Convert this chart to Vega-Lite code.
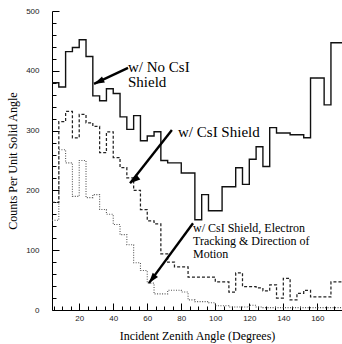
{
  "$schema": "https://vega.github.io/schema/vega-lite/v6.json",
  "width": 290,
  "height": 299,
  "autosize": "none",
  "padding": {"left": 52, "top": 11, "right": 0, "bottom": 34},
  "background": "white",
  "config": {
    "view": {"stroke": null},
    "axis": {"grid": false, "domainColor": "black", "tickColor": "black", "labelColor": "#222", "labelFont": "Liberation Sans", "labelFontSize": 8, "titleFont": "Liberation Serif", "titleFontSize": 12, "titleFontWeight": "normal", "titleColor": "black"}
  },
  "resolve": {"axis": {"x": "independent", "y": "independent"}},
  "datasets": {
    "hist": [
      {"deg": 4, "noshield": 380, "csi": 180, "track": 150},
      {"deg": 8, "noshield": 373, "csi": 315, "track": 268},
      {"deg": 12, "noshield": 432, "csi": 332, "track": 246},
      {"deg": 16, "noshield": 439, "csi": 288, "track": 190},
      {"deg": 20, "noshield": 452, "csi": 327, "track": 250},
      {"deg": 24, "noshield": 424, "csi": 313, "track": 188},
      {"deg": 28, "noshield": 358, "csi": 307, "track": 193},
      {"deg": 32, "noshield": 350, "csi": 263, "track": 168},
      {"deg": 36, "noshield": 370, "csi": 298, "track": 160},
      {"deg": 40, "noshield": 362, "csi": 255, "track": 143},
      {"deg": 44, "noshield": 323, "csi": 238, "track": 126},
      {"deg": 48, "noshield": 302, "csi": 221, "track": 109},
      {"deg": 52, "noshield": 325, "csi": 200, "track": 79},
      {"deg": 56, "noshield": 283, "csi": 168, "track": 66},
      {"deg": 60, "noshield": 291, "csi": 149, "track": 45},
      {"deg": 64, "noshield": 298, "csi": 144, "track": 27},
      {"deg": 68, "noshield": 250, "csi": 94, "track": 27},
      {"deg": 72, "noshield": 246, "csi": 80, "track": 33},
      {"deg": 76, "noshield": 246, "csi": 72, "track": 33},
      {"deg": 80, "noshield": 229, "csi": 72, "track": 30},
      {"deg": 84, "noshield": 229, "csi": 55, "track": 17},
      {"deg": 88, "noshield": 151, "csi": 55, "track": 14},
      {"deg": 92, "noshield": 193, "csi": 55, "track": 14},
      {"deg": 96, "noshield": 166, "csi": 55, "track": 12},
      {"deg": 100, "noshield": 166, "csi": 47, "track": 7},
      {"deg": 104, "noshield": 206, "csi": 47, "track": 7},
      {"deg": 108, "noshield": 206, "csi": 30, "track": 5},
      {"deg": 112, "noshield": 238, "csi": 62, "track": 5},
      {"deg": 116, "noshield": 210, "csi": 39, "track": 5},
      {"deg": 120, "noshield": 252, "csi": 39, "track": 8},
      {"deg": 124, "noshield": 273, "csi": 37, "track": 5},
      {"deg": 128, "noshield": 240, "csi": 32, "track": 4},
      {"deg": 132, "noshield": 305, "csi": 42, "track": 4},
      {"deg": 136, "noshield": 296, "csi": 20, "track": 4},
      {"deg": 140, "noshield": 296, "csi": 53, "track": 4},
      {"deg": 144, "noshield": 293, "csi": 17, "track": 4},
      {"deg": 148, "noshield": 293, "csi": 28, "track": 4},
      {"deg": 152, "noshield": 288, "csi": 33, "track": 4},
      {"deg": 156, "noshield": 388, "csi": 22, "track": 4},
      {"deg": 160, "noshield": 388, "csi": 22, "track": 4},
      {"deg": 164, "noshield": 343, "csi": 22, "track": 4},
      {"deg": 168, "noshield": 447, "csi": 47, "track": 4},
      {"deg": 172, "noshield": 447, "csi": 47, "track": 4},
      {"deg": 176, "noshield": 447, "csi": 47, "track": 4}
    ],
    "arrows": [
      {"id": "a", "x1": 48.7, "y1": 405, "x2": 28.7, "y2": 378},
      {"id": "b", "x1": 74.5, "y1": 301, "x2": 49.9, "y2": 212},
      {"id": "c", "x1": 86.9, "y1": 145, "x2": 61.0, "y2": 45}
    ],
    "labels": [
      {"id": "a", "deg": 48.7, "n": 398, "text": ["w/ No CsI", "Shield"]},
      {"id": "b", "deg": 78.1, "n": 289, "text": ["w/ CsI Shield"]},
      {"id": "c", "deg": 86.9, "n": 130, "text": ["w/ CsI Shield, Electron", "Tracking & Direction of", "Motion"]}
    ]
  },
  "layer": [
    {
      "data": {"name": "hist"},
      "transform": [{"fold": ["noshield", "csi", "track"], "as": ["series", "count"]}],
      "mark": {"type": "line", "interpolate": "step-after", "clip": true},
      "encoding": {
        "x": {"field": "deg", "type": "quantitative", "scale": {"domain": [4, 174.5], "nice": false, "zero": false},
          "axis": {"orient": "bottom", "values": [5,10,15,25,30,35,45,50,55,65,70,75,85,90,95,105,110,115,125,130,135,145,150,155,165,170],
            "labels": false, "tickSize": -4, "title": null, "domain": true}},
        "y": {"field": "count", "type": "quantitative", "scale": {"domain": [0, 500], "nice": false},
          "axis": {"orient": "left", "values": [20,40,60,80,120,140,160,180,220,240,260,280,320,340,360,380,420,440,460,480],
            "labels": false, "tickSize": -4, "title": null, "domain": true}},
        "strokeDash": {"field": "series", "type": "nominal", "scale": {"domain": ["noshield", "csi", "track"], "range": [[1, 0], [3, 2], [1, 1.5]]}, "legend": null},
        "strokeWidth": {"field": "series", "type": "nominal", "scale": {"domain": ["noshield", "csi", "track"], "range": [1.4, 1.1, 1.1]}, "legend": null},
        "color": {"field": "series", "type": "nominal", "scale": {"domain": ["noshield", "csi", "track"], "range": ["#111", "#222", "#555"]}, "legend": null}
      }
    },
    {
      "mark": {"type": "rule", "color": "black", "strokeWidth": 1},
      "encoding": {"y": {"datum": 500, "axis": null}}
    },
    {
      "data": {"name": "arrows"},
      "mark": {"type": "rule", "color": "black", "strokeWidth": 2.4},
      "encoding": {
        "x": {"field": "x1", "type": "quantitative",
          "axis": {"orient": "bottom", "values": [20,40,60,80,100,120,140,160], "tickSize": -7, "labelPadding": 11, "labelOverlap": false,
            "title": "Incident Zenith Angle (Degrees)", "titlePadding": 8, "domain": false}},
        "y": {"field": "y1", "type": "quantitative",
          "axis": {"orient": "left", "values": [0,100,200,300,400,500], "tickSize": -7, "labelPadding": 20, "labelOverlap": false,
            "title": "Counts Per Unit Solid Angle", "titlePadding": 6, "domain": false}},
        "x2": {"field": "x2"},
        "y2": {"field": "y2"}
      }
    },
    {
      "data": {"name": "arrows"},
      "mark": {"type": "point", "shape": "M0,0L-0.55,1.7L0.55,1.7Z", "filled": true, "color": "black", "size": 150, "opacity": 1},
      "encoding": {
        "x": {"field": "x2", "type": "quantitative", "axis": null},
        "y": {"field": "y2", "type": "quantitative", "axis": null},
        "angle": {"field": "id", "type": "nominal", "scale": {"domain": ["a", "b", "c"], "range": [245, 218, 216]}, "legend": null}
      }
    },
    {
      "data": {"name": "labels"},
      "transform": [{"filter": "datum.id !== 'c'"}],
      "mark": {"type": "text", "align": "left", "baseline": "alphabetic", "font": "Liberation Serif", "fontSize": 15, "lineHeight": 15, "color": "black"},
      "encoding": {
        "x": {"field": "deg", "type": "quantitative", "axis": null},
        "y": {"field": "n", "type": "quantitative", "axis": null},
        "text": {"field": "text"}
      }
    },
    {
      "data": {"name": "labels"},
      "transform": [{"filter": "datum.id === 'c'"}],
      "mark": {"type": "text", "align": "left", "baseline": "alphabetic", "font": "Liberation Serif", "fontSize": 12, "lineHeight": 13, "color": "black"},
      "encoding": {
        "x": {"field": "deg", "type": "quantitative", "axis": null},
        "y": {"field": "n", "type": "quantitative", "axis": null},
        "text": {"field": "text"}
      }
    }
  ]
}
